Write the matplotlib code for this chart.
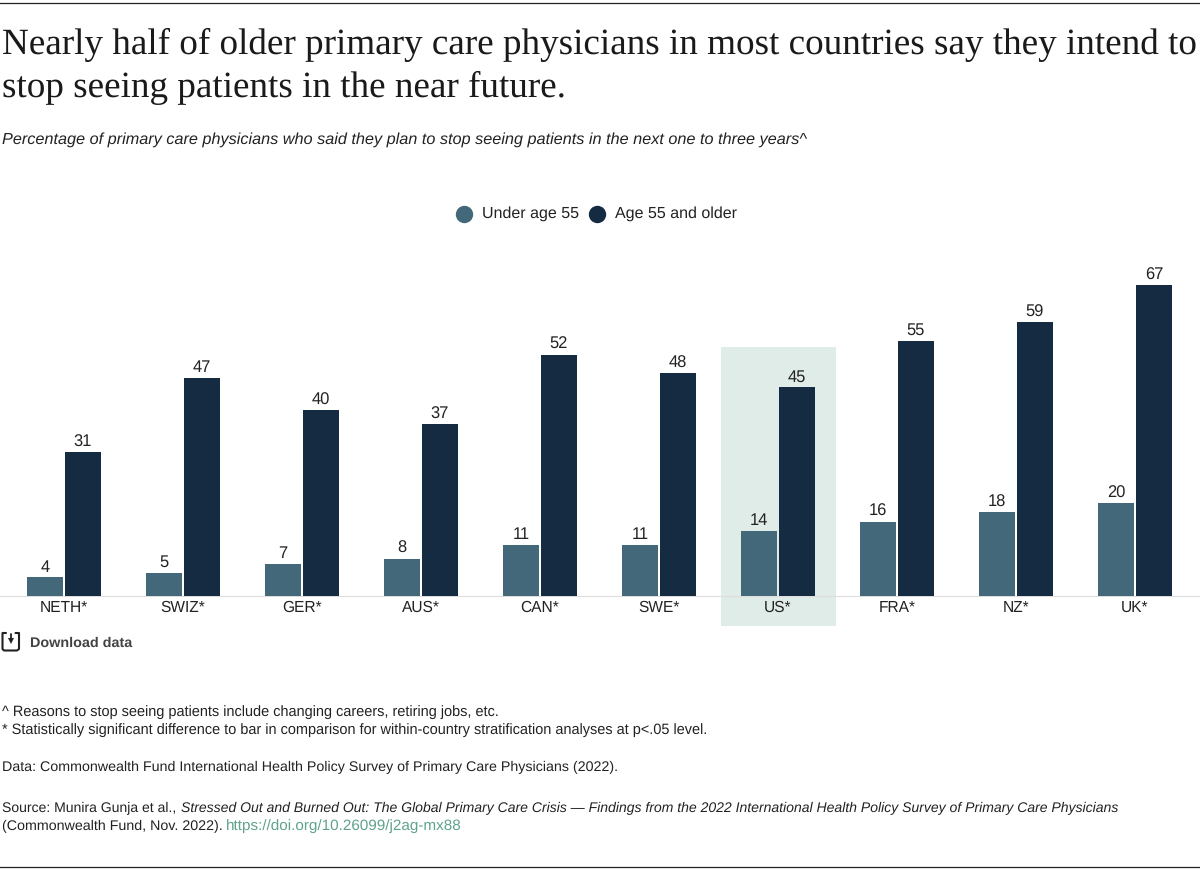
import matplotlib
matplotlib.use("Agg")
import matplotlib.pyplot as plt
from matplotlib.patches import Rectangle
from matplotlib.lines import Line2D

countries = ["NETH*", "SWIZ*", "GER*", "AUS*", "CAN*", "SWE*", "US*", "FRA*", "NZ*", "UK*"]
under_55 = [4, 5, 7, 8, 11, 11, 14, 16, 18, 20]
age_55_plus = [31, 47, 40, 37, 52, 48, 45, 55, 59, 67]
series_names = ["Under age 55", "Age 55 and older"]
highlight = "US*"

title_lines = ["Nearly half of older primary care physicians in most countries say they intend to",
               "stop seeing patients in the near future."]
subtitle = "Percentage of primary care physicians who said they plan to stop seeing patients in the next one to three years^"
note_1 = "^ Reasons to stop seeing patients include changing careers, retiring jobs, etc."
note_2 = "* Statistically significant difference to bar in comparison for within-country stratification analyses at p<.05 level."
data_note = "Data: Commonwealth Fund International Health Policy Survey of Primary Care Physicians (2022)."
source_a = "Source: Munira Gunja et al., "
source_b = "Stressed Out and Burned Out: The Global Primary Care Crisis \u2014 Findings from the 2022 International Health Policy Survey of Primary Care Physicians"
source_c = "(Commonwealth Fund, Nov. 2022). "
doi = "https://doi.org/10.26099/j2ag-mx88"

W, H = 1200, 875
C_UNDER, C_OLD, C_BAND, C_TEXT, C_LINK = "#436879", "#152b41", "#e0ece8", "#222222", "#5fa38d"
plt.rcParams["font.family"] = ["Liberation Sans", "DejaVu Sans"]
plt.rcParams["text.hinting"] = "no_hinting"

fig = plt.figure(figsize=(12, 8.75), dpi=100, facecolor="white")

def ftext(x, y, s, size=14.5, **kw):
    kw.setdefault("color", C_TEXT)
    kw.setdefault("va", "baseline")
    return fig.text(x / W, 1 - y / H, s, fontsize=size * 0.72, **kw)

# chart axes: baseline at pixel y=596
top_px, base_px = 240, 596
ax = fig.add_axes([0, 1 - base_px / H, 1, (base_px - top_px) / H])
step = 119.0
x0 = 64.0
ax.set_xlim(-x0 / step, (W - x0) / step)
px_per_unit = 311 / 67
ax.set_ylim(0, (base_px - top_px) / px_per_unit)
ax.patch.set_alpha(0)
for s in ax.spines.values():
    s.set_visible(False)
ax.set_yticks([])
ax.set_xticks(range(len(countries)), countries)
ax.tick_params(axis="x", length=0, pad=3, labelsize=15.5 * 0.72, labelcolor=C_TEXT)

bw = 36 / step
off = 19 / step
idx = countries.index(highlight)
ax.add_patch(Rectangle((idx - 57 / step, -30 / px_per_unit), 115 / step, 279 / px_per_unit,
                       facecolor=C_BAND, edgecolor="none", clip_on=False, zorder=1))
xs = list(range(len(countries)))
b1 = ax.bar([x - off for x in xs], under_55, bw, color=C_UNDER, zorder=2)
b2 = ax.bar([x + off for x in xs], age_55_plus, bw, color=C_OLD, zorder=2)
for bars in (b1, b2):
    ax.bar_label(bars, padding=1.5, fontsize=16.5 * 0.72, color=C_TEXT, zorder=3)
ax.axhline(0, color="#dddddd", lw=0.8, zorder=1.5, clip_on=False)

# rules
for y in (3, 867):
    fig.add_artist(Line2D([0, 1], [1 - y / H] * 2, color="#222222", lw=0.9))

# title
for s, y in zip(title_lines, (54, 97)):
    ftext(2, y, s, size=37.1, family=["Liberation Serif"], color="#1a1a1a")
ftext(2, 144, subtitle, size=16.2, style="italic")

# legend
for cx, col, tx, name in zip((464, 597), (C_UNDER, C_OLD), (482, 615), series_names):
    fig.add_artist(Line2D([cx / W], [1 - 213.5 / H], marker="o", ms=11.5, color=col, mec=col, ls=""))
    ftext(tx, 218, name, size=16)

# download icon
def L(xs_, ys_, lw=1.5):
    fig.add_artist(Line2D([v / W for v in xs_], [1 - v / H for v in ys_], color="#222222", lw=lw,
                          solid_capstyle="round", solid_joinstyle="round"))
L([6, 2.5, 2.5, 4, 17, 19, 19, 15.5], [633, 633, 649, 650.5, 650.5, 649, 633, 633])
L([10.5, 10.5], [634, 640], lw=1.3)
fig.add_artist(Line2D([10.5 / W], [1 - 641 / H], marker="v", ms=4.5, color="#222222", mew=0, ls=""))
ftext(30, 647, "Download data", size=14.4, weight="bold", alpha=0.85)

# notes
ftext(2, 716, note_1, size=14.5)
ftext(2, 734, note_2, size=14.5)
ftext(2, 771, data_note, size=14.2)
ftext(2, 812, source_a, size=14.0)
ftext(181, 812, source_b, size=14.0, style="italic")
ftext(2, 830, source_c, size=14.2)
ftext(226, 830, doi, size=15.2, color=C_LINK)

fig.savefig("out.png", dpi=100, facecolor="white")
